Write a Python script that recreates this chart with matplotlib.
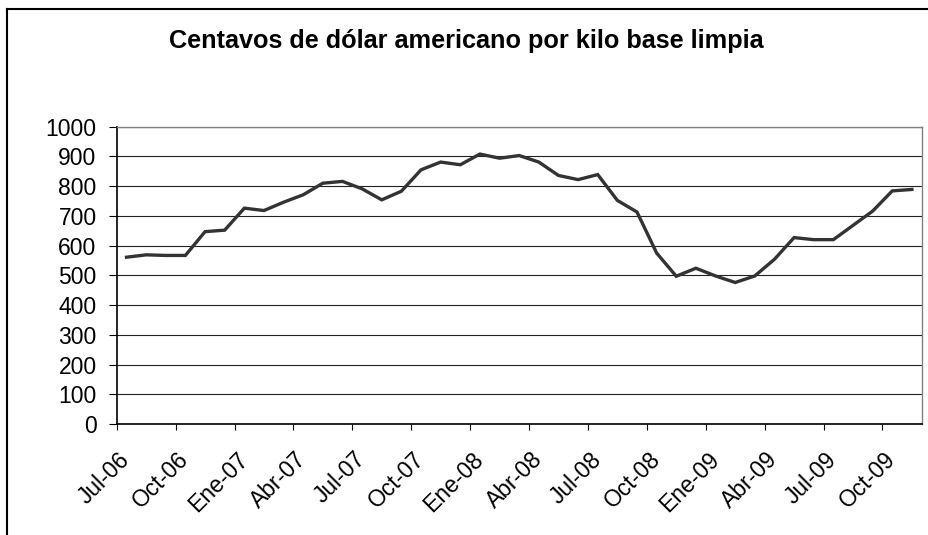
import matplotlib
matplotlib.use("Agg")
from matplotlib import pyplot as plt
from matplotlib.lines import Line2D
import numpy as np

plt.rcParams['font.family'] = ['Liberation Sans', 'DejaVu Sans']

# monthly price, Jul-06 .. Nov-09 (cents USD per kg clean base)
months = ["Jul-06", "Ago-06", "Sep-06", "Oct-06", "Nov-06", "Dic-06",
          "Ene-07", "Feb-07", "Mar-07", "Abr-07", "May-07", "Jun-07",
          "Jul-07", "Ago-07", "Sep-07", "Oct-07", "Nov-07", "Dic-07",
          "Ene-08", "Feb-08", "Mar-08", "Abr-08", "May-08", "Jun-08",
          "Jul-08", "Ago-08", "Sep-08", "Oct-08", "Nov-08", "Dic-08",
          "Ene-09", "Feb-09", "Mar-09", "Abr-09", "May-09", "Jun-09",
          "Jul-09", "Ago-09", "Sep-09", "Oct-09", "Nov-09"]
precio = [561, 569, 567, 567, 647, 652,
          726, 718, 746, 771, 810, 816,
          791, 754, 783, 855, 881, 872,
          908, 894, 903, 881, 836, 822,
          839, 752, 713, 575, 497, 524,
          498, 476, 498, 554, 627, 620,
          620, 668, 716, 784, 789]
y_ticks = list(range(0, 1001, 100))
titulo = "Centavos de dólar americano por kilo base limpia"

W, H = 929, 535
fig = plt.figure(figsize=(W / 100, H / 100), dpi=100)
ax = fig.add_axes([116.7 / W, 1 - 424 / H, (921.7 - 116.7) / W, (424 - 126.7) / H])

x = np.arange(len(precio))
ax.plot(x, precio, color="#333333", linewidth=2.4, solid_joinstyle="miter", zorder=3)

ax.set_xlim(-0.5, len(precio) - 0.5)
ax.set_ylim(0, 1000)
ax.set_yticks(y_ticks)
ax.set_yticklabels([str(v) for v in y_ticks], fontsize=16.5)
ax.grid(axis="y", color="#222222", linewidth=0.8)
ax.set_axisbelow(True)
ax.tick_params(axis="y", length=5.5, width=0.8, pad=9)

# tick marks between categories every 3 months, labels on the month itself
ax.set_xticks(np.arange(0, len(precio), 3) - 0.5)
ax.set_xticklabels([])
ax.tick_params(axis="x", which="major", length=4, width=0.8)
ax.set_xticks(np.arange(0, len(precio), 3), minor=True)
ax.set_xticklabels(months[::3], minor=True, fontsize=16.5, rotation=45,
                   ha="right", va="center", rotation_mode="anchor")
ax.tick_params(axis="x", which="minor", length=0, pad=23)

for s in ["left", "bottom"]:
    ax.spines[s].set_color("black")
    ax.spines[s].set_linewidth(1.2)
for s in ["top", "right"]:
    ax.spines[s].set_color("#808080")
    ax.spines[s].set_linewidth(1.0)

fig.text(466 / W, 1 - 48 / H, titulo, fontsize=18.2, fontweight="bold",
         ha="center", va="baseline")

# outer chart frame (cut at right and bottom)
fig.add_artist(Line2D([7 / W, 7 / W], [0, 1 - 9 / H], color="black", linewidth=1.5,
                      transform=fig.transFigure))
fig.add_artist(Line2D([7 / W, 1], [1 - 9 / H, 1 - 9 / H], color="black", linewidth=1.5,
                      transform=fig.transFigure))

fig.savefig("out.png", dpi=100)
